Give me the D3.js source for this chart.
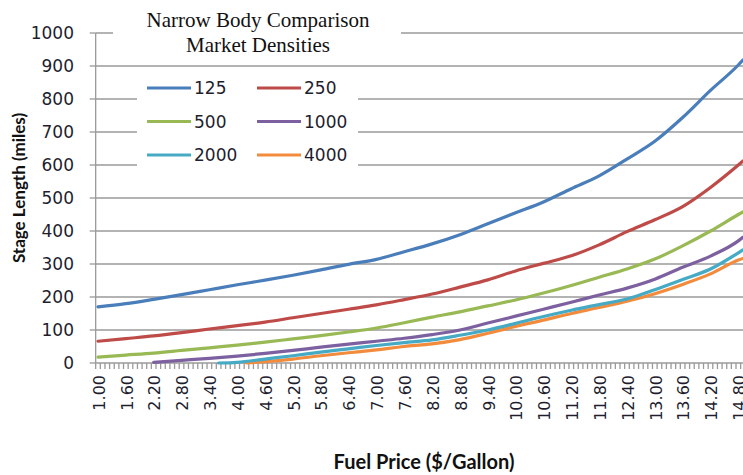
<!DOCTYPE html>
<html>
<head>
<meta charset="utf-8">
<script src="https://cdn.jsdelivr.net/npm/d3@7"></script>
<style>
	body {margin: 0; background: #fff}
	svg {display: block}
	.tickText {font-family: "DejaVu Sans", sans-serif; fill: #1e1e2e}
	.axisTitle {font-family: Lato, "Open Sans", sans-serif; font-weight: bold; fill: #111}
	.chartTitle {font-family: "Liberation Serif", serif; fill: #111}
</style>
</head>
<body>
<svg id="chart" width="743" height="475"></svg>
<script>

// fuel price points the curves were read at (last one is the right edge of the picture)
const prices = [1.0, 1.6, 2.2, 2.8, 3.4, 4.0, 4.6, 5.2, 5.8, 6.4, 7.0, 7.6, 8.2, 8.8, 9.4, 10.0, 10.6, 11.2, 11.8, 12.4, 13.0, 13.6, 14.2, 14.8, 14.9]

const s125 = [170, 180, 193, 207, 222, 237, 251, 266, 282, 299, 314, 337, 361, 389, 422, 455, 488, 528, 567, 618, 672, 744, 826, 903, 918]
const s250 = [66, 74, 82, 92, 103, 113, 124, 137, 150, 163, 176, 192, 209, 230, 252, 279, 302, 325, 358, 398, 434, 474, 532, 600, 612]
const s500 = [18, 24, 30, 38, 46, 54, 63, 73, 83, 94, 106, 122, 139, 155, 173, 191, 212, 235, 260, 285, 315, 355, 400, 450, 458]
const s1000 = [null, null, 2, 8, 14, 21, 29, 38, 48, 57, 66, 75, 86, 100, 121, 142, 163, 184, 206, 227, 254, 290, 324, 370, 381]
const s2000 = [null, null, null, null, null, 2, 12, 22, 33, 43, 53, 62, 70, 84, 100, 120, 141, 160, 177, 194, 222, 253, 285, 334, 343]
const s4000 = [null, null, null, null, null, null, 4, 12, 22, 31, 40, 50, 58, 71, 90, 111, 130, 150, 168, 187, 210, 238, 270, 312, 317]

// where the low-density curves leave the zero line
const startPrice = [null, null, null, null, 3.6, 4.2]
const startValue = [null, null, null, null, 0, 0]

const seriesNames = ["125", "250", "500", "1000", "2000", "4000"]
const seriesValues = [s125, s250, s500, s1000, s2000, s4000]
const seriesColors = ["#4a7ebb", "#be4b48", "#98b954", "#7d60a0", "#46aac5", "#f28c3c"]

const yTicks = [0, 100, 200, 300, 400, 500, 600, 700, 800, 900, 1000]
const xLabels = ["1.00", "1.60", "2.20", "2.80", "3.40", "4.00", "4.60", "5.20", "5.80", "6.40", "7.00", "7.60",
	"8.20", "8.80", "9.40", "10.00", "10.60", "11.20", "11.80", "12.40", "13.00", "13.60", "14.20", "14.80"]

const titleLines = ["Narrow Body Comparison", "Market Densities"]

const svg = d3.select("#chart")

const step = 0.1 //category width on the axis
const x = d3.scaleLinear().domain([1.0, 14.8]).range([98, 98 + 138 * 4.64])
const y = d3.scaleLinear().domain([0, 1000]).range([363, 33])

const axisLeft = x(1.0 - step / 2)
const plotRight = x(15.0 + step / 2)

// gridlines
svg.append("g")
	.selectAll("line")
	.data(yTicks.filter(v => v > 0))
	.join("line")
		.attr("x1", axisLeft).attr("x2", plotRight)
		.attr("y1", v => y(v)).attr("y2", v => y(v))
		.attr("stroke", "#9a9a9a").attr("stroke-width", 1.3)

// title and legend sit on white boxes over the gridlines
svg.append("rect").attr("x", 113).attr("y", 0).attr("width", 288).attr("height", 58).attr("fill", "#fff")
svg.append("rect").attr("x", 137).attr("y", 70).attr("width", 221).attr("height", 110).attr("fill", "#fff")

svg.append("g")
	.selectAll("text")
	.data(titleLines)
	.join("text")
		.classed("chartTitle", true)
		.attr("x", 258)
		.attr("y", (d, i) => 27 + i * 25)
		.attr("text-anchor", "middle")
		.attr("font-size", 21)
		.text(d => d)

// y axis
const yAxis = svg.append("g")
yAxis.append("line")
	.attr("x1", axisLeft).attr("x2", axisLeft)
	.attr("y1", y(1000)).attr("y2", y(0))
	.attr("stroke", "#9a9a9a").attr("stroke-width", 1.3)
yAxis.selectAll("line.tick")
	.data(yTicks)
	.join("line")
		.classed("tick", true)
		.attr("x1", axisLeft - 6).attr("x2", axisLeft)
		.attr("y1", v => y(v)).attr("y2", v => y(v))
		.attr("stroke", "#9a9a9a").attr("stroke-width", 1.3)
yAxis.selectAll("text")
	.data(yTicks)
	.join("text")
		.classed("tickText", true)
		.attr("x", 74)
		.attr("y", v => y(v))
		.attr("dy", "0.36em")
		.attr("text-anchor", "end")
		.attr("font-size", 17)
		.text(v => v)

// x axis: a tick between every category, a label every sixth one
const xAxis = svg.append("g")
xAxis.append("line")
	.attr("x1", axisLeft).attr("x2", plotRight)
	.attr("y1", y(0)).attr("y2", y(0))
	.attr("stroke", "#9a9a9a").attr("stroke-width", 1.3)
xAxis.selectAll("line.tick")
	.data(d3.range(0, 142))
	.join("line")
		.classed("tick", true)
		.attr("x1", k => x(1.0 + (k - 0.5) * step)).attr("x2", k => x(1.0 + (k - 0.5) * step))
		.attr("y1", y(0)).attr("y2", y(0) + 6)
		.attr("stroke", "#9a9a9a").attr("stroke-width", 1.3)
xAxis.selectAll("text")
	.data(xLabels)
	.join("text")
		.classed("tickText", true)
		.attr("transform", d => `translate(${x(+d) + 1},375) rotate(-90)`)
		.attr("dy", "0.36em")
		.attr("text-anchor", "end")
		.attr("font-size", 16)
		.text(d => d)

// axis titles
svg.append("text")
	.classed("axisTitle", true)
	.attr("transform", `translate(25,${y(500) - 10}) rotate(-90)`)
	.attr("text-anchor", "middle")
	.attr("font-size", 17)
	.text("Stage Length (miles)")

svg.append("text")
	.classed("axisTitle", true)
	.attr("x", 424)
	.attr("y", 469)
	.attr("text-anchor", "middle")
	.attr("font-size", 20)
	.text("Fuel Price ($/Gallon)")

// curves
const line = d3.line()
	.x(d => x(d[0]))
	.y(d => y(d[1]))
	.curve(d3.curveMonotoneX)

function seriesPoints(i) {
	var pts = []
	if (startPrice[i] !== null) pts.push([startPrice[i], startValue[i]])
	seriesValues[i].forEach((v, j) => {
		if (v !== null) pts.push([prices[j], v])
	})
	return pts
}

svg.append("g")
	.selectAll("path")
	.data(d3.range(seriesNames.length).reverse())
	.join("path")
		.attr("d", i => line(seriesPoints(i)))
		.attr("fill", "none")
		.attr("stroke", i => seriesColors[i])
		.attr("stroke-width", 3.2)
		.attr("stroke-linejoin", "round")
		.attr("stroke-linecap", "round")

// legend, two columns
const legend = svg.append("g")
	.selectAll("g")
	.data(seriesNames)
	.join("g")
		.attr("transform", (d, i) => `translate(${i % 2 === 0 ? 147 : 257},${88 + Math.floor(i / 2) * 33.5})`)
legend.append("line")
	.attr("x1", 0).attr("x2", 44)
	.attr("stroke", (d, i) => seriesColors[i])
	.attr("stroke-width", 3.2)
legend.append("text")
	.classed("tickText", true)
	.attr("x", 47)
	.attr("dy", "0.36em")
	.attr("font-size", 17)
	.text(d => d)

</script>
</body>
</html>
